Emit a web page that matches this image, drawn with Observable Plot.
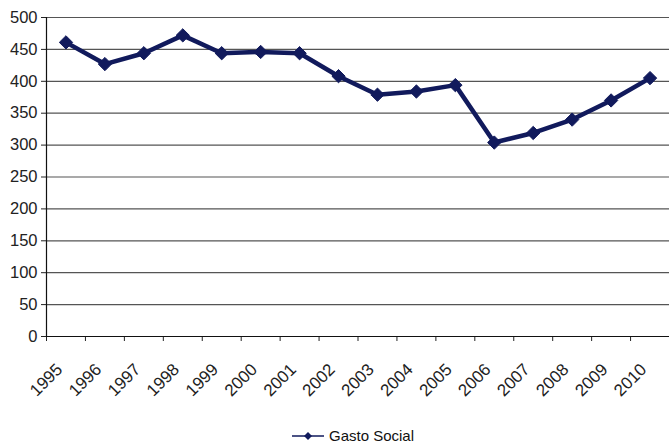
<!DOCTYPE html>
<html>
<head>
<meta charset="utf-8">
<script src="https://cdn.jsdelivr.net/npm/d3@7"></script>
<script src="https://cdn.jsdelivr.net/npm/@observablehq/plot@0.6"></script>
<style>
  body { margin: 0; background: #fff; font-family: "Liberation Sans", Arial, sans-serif; }
  #wrap { position: relative; width: 670px; height: 445px; }
  #legend { position: absolute; left: 0; top: 426px; width: 670px; height: 19px; color: #111; font-size: 15px; }
  #legend svg { position: absolute; left: 291px; top: 4px; }
  #legend span { position: absolute; left: 329px; top: 1px; }
</style>
</head>
<body>
<div id="wrap">
  <div id="chart"></div>
  <div id="legend"></div>
</div>
<script>
// Gasto social por año
const years = [1995, 1996, 1997, 1998, 1999, 2000, 2001, 2002, 2003, 2004, 2005, 2006, 2007, 2008, 2009, 2010];
const gasto = [461, 427, 444, 472, 444, 446, 444, 408, 379, 384, 394, 304, 319, 340, 370, 405];
const yTicks = [0, 50, 100, 150, 200, 250, 300, 350, 400, 450, 500];
const seriesName = "Gasto Social";

const lineColor = "#111a5c";
const data = years.map((year, i) => ({year, value: gasto[i]}));
// each year occupies a band [year, year + 1); points sit in the middle of it
const mid = d => d.year + 0.5;

const W = 670, H = 426;
const chart = Plot.plot({
  width: W,
  height: H,
  marginLeft: 46,
  marginRight: 1,
  marginTop: 17,
  marginBottom: H - 336,
  style: {fontFamily: "'Liberation Sans', Arial, sans-serif", fontSize: "16px", color: "#222", background: "#fff"},
  x: {domain: [years[0], years[years.length - 1] + 1]},
  y: {domain: [0, 500]},
  marks: [
    Plot.ruleY(yTicks.slice(1), {stroke: "#555", strokeWidth: 1.2}),
    Plot.axisY({ticks: yTicks, tickSize: 5, tickPadding: 4, label: null, fontSize: 16.5}),
    Plot.axisX({ticks: years, tickSize: 5, tickFormat: () => "", label: null}),
    Plot.text(years, {
      x: d => d,
      y: 0,
      text: d => String(d),
      rotate: -45,
      textAnchor: "end",
      lineAnchor: "bottom",
      dx: 17,
      dy: 34,
      fontSize: 17,
      fill: "#222"
    }),
    Plot.ruleX([years[0]], {stroke: "#111", strokeWidth: 1.2}),
    Plot.ruleY([0], {stroke: "#111", strokeWidth: 1.2}),
    Plot.line(data, {x: mid, y: "value", stroke: lineColor, strokeWidth: 4.5, strokeLinejoin: "round"}),
    Plot.dot(data, {x: mid, y: "value", symbol: "diamond2", r: 6, fill: lineColor, stroke: lineColor, strokeWidth: 1})
  ]
});
document.getElementById("chart").append(chart);

// legend: line with a diamond marker, followed by the series name
const legend = document.getElementById("legend");
const ns = "http://www.w3.org/2000/svg";
const sw = document.createElementNS(ns, "svg");
sw.setAttribute("width", 34);
sw.setAttribute("height", 12);
const ln = document.createElementNS(ns, "line");
ln.setAttribute("x1", 1); ln.setAttribute("x2", 33);
ln.setAttribute("y1", 6); ln.setAttribute("y2", 6);
ln.setAttribute("stroke", lineColor); ln.setAttribute("stroke-width", 1.5);
const dm = document.createElementNS(ns, "path");
dm.setAttribute("d", "M17,2L21,6L17,10L13,6Z");
dm.setAttribute("fill", lineColor);
sw.append(ln, dm);
const label = document.createElement("span");
label.textContent = seriesName;
legend.append(sw, label);
</script>
</body>
</html>
